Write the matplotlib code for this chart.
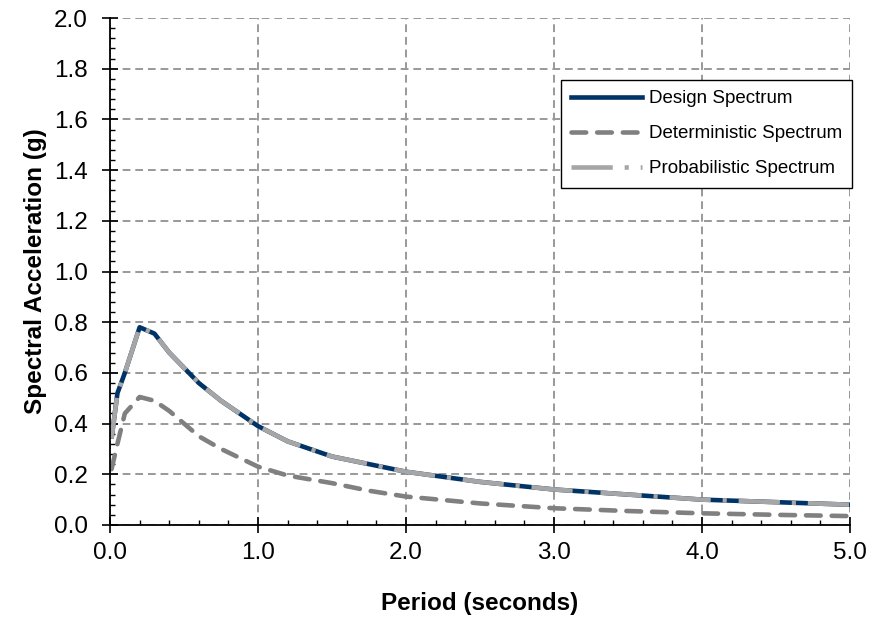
import numpy as np
import matplotlib
matplotlib.use("Agg")
import matplotlib.pyplot as plt
from matplotlib.ticker import MultipleLocator, FormatStrFormatter
from matplotlib.lines import Line2D

# Values
period = [0.01, 0.05, 0.1, 0.2, 0.3, 0.4, 0.5, 0.6, 0.75, 1.0, 1.2, 1.5,
          1.75, 2.0, 2.5, 3.0, 3.5, 4.0, 4.5, 5.0]
design = [0.34, 0.52, 0.60, 0.78, 0.755, 0.68, 0.62, 0.56, 0.49, 0.39, 0.33,
          0.27, 0.24, 0.21, 0.17, 0.14, 0.12, 0.10, 0.09, 0.08]
probabilistic = design
deterministic = [0.22, 0.32, 0.44, 0.505, 0.49, 0.45, 0.40, 0.35, 0.30, 0.23,
                 0.195, 0.165, 0.135, 0.112, 0.085, 0.066, 0.055, 0.046, 0.04,
                 0.035]

plt.rcParams['font.family'] = ['Liberation Sans', 'DejaVu Sans']

navy = '#003366'
grey_det = '#808080'
grey_prob = '#a6a6a6'
lw = 3.3
prob_style = (0, (9, 2.6, 0.9, 2.6))
det_style = (0, (3.2, 2.4))

fig = plt.figure(figsize=(8.81, 6.22), dpi=100)
ax = fig.add_axes([0.1249, 0.156, 0.8399, 0.815])

ax.plot(period, design, color=navy, lw=lw, solid_capstyle='butt')
ax.plot(period, probabilistic, color=grey_prob, lw=lw, linestyle=prob_style)
ax.plot(period, deterministic, color=grey_det, lw=lw, linestyle=det_style,
        dash_capstyle='round')

ax.set_xlim(0, 5)
ax.set_ylim(0, 2)
ax.xaxis.set_major_locator(MultipleLocator(1.0))
ax.xaxis.set_minor_locator(MultipleLocator(0.2))
ax.yaxis.set_major_locator(MultipleLocator(0.2))
ax.yaxis.set_minor_locator(MultipleLocator(0.04))
ax.xaxis.set_major_formatter(FormatStrFormatter('%.1f'))
ax.yaxis.set_major_formatter(FormatStrFormatter('%.1f'))

ax.grid(True, which='major', color='#999999', linestyle=(0, (4, 2.5)), lw=1.4)
ax.set_axisbelow(True)
for side in ['top', 'right']:
    ax.spines[side].set_visible(False)
for side in ['left', 'bottom']:
    ax.spines[side].set_linewidth(1.3)

ax.tick_params(which='major', direction='inout', length=11, width=1.2,
               labelsize=17.5)
ax.tick_params(axis='y', which='major', pad=10.5)
ax.tick_params(axis='x', which='major', pad=7)
ax.tick_params(which='minor', direction='in', length=3.8, width=1)
ax.tick_params(axis='x', which='both', top=False)
ax.tick_params(axis='y', which='both', right=False)

ax.set_xlabel('Period (seconds)', fontsize=17.5, fontweight='bold', labelpad=20)
ax.set_ylabel('Spectral Acceleration (g)', fontsize=17.5, fontweight='bold',
              labelpad=5)

handles = [
    Line2D([], [], color=navy, lw=lw),
    Line2D([], [], color=grey_det, lw=lw, linestyle=det_style,
           dash_capstyle='round'),
    Line2D([], [], color=grey_prob, lw=lw, linestyle=prob_style),
]
labels = ['Design Spectrum', 'Deterministic Spectrum', 'Probabilistic Spectrum']
leg = ax.legend(handles, labels, loc='upper right',
                bbox_to_anchor=(1.003, 0.878), borderaxespad=0,
                fontsize=13.5, frameon=True, fancybox=False,
                edgecolor='black', handlelength=3.8, handletextpad=0.35,
                labelspacing=0.95, borderpad=0.55, framealpha=1)
leg.get_frame().set_linewidth(1.0)

fig.savefig('out.png', dpi=100)
